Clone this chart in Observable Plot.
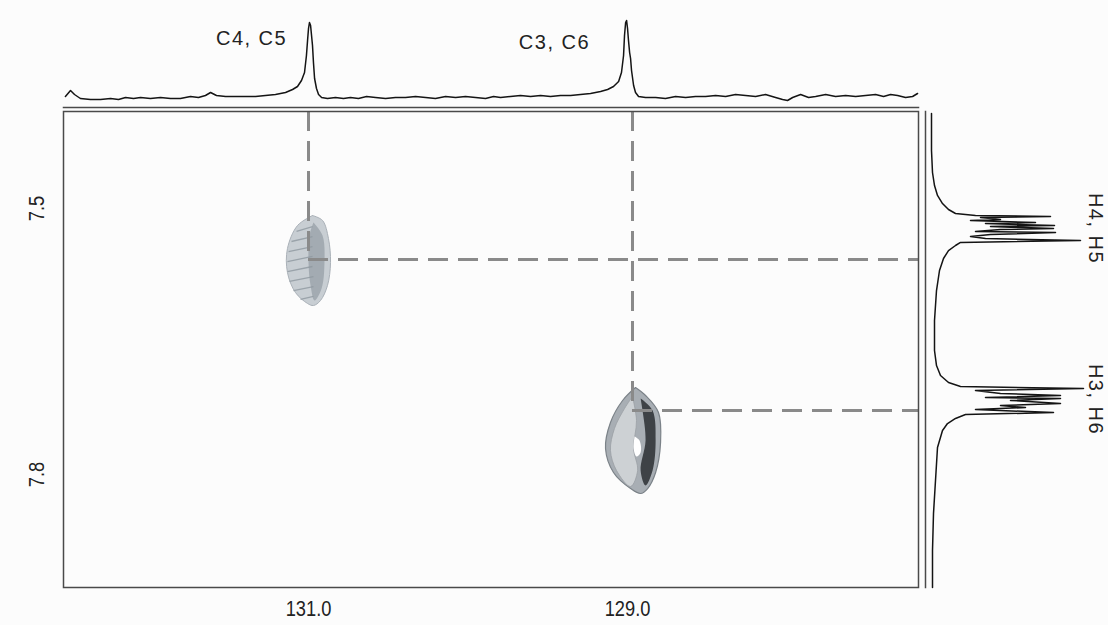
<!DOCTYPE html>
<html><head><meta charset="utf-8">
<script src="https://cdn.jsdelivr.net/npm/d3@7"></script>
<script src="https://cdn.jsdelivr.net/npm/@observablehq/plot@0.6"></script>
<style>
html,body{margin:0;padding:0;background:#fcfcfc;}
#chart{position:relative;width:1108px;height:625px;overflow:hidden;background:#fcfcfc;}
#chart svg{position:absolute;left:0;top:0;}
</style></head><body><div id="chart"></div>
<script>
// ---- axis extents and ticks (ppm) ----
const carbonDomain = [132.536, 127.176];
const protonDomain = [7.3906, 7.9274];
const carbonTicks = [131.0, 129.0];
const protonTicks = [7.5, 7.8];

// ---- labels ----
const carbonLabels = ["C4, C5", "C3, C6"];
const carbonLabelShift = [131.357, 129.458];
const carbonLabelHeight = [62, 58];
const protonLabels = ["H4, H5", "H3, H6"];
const protonLabelShift = [7.5226, 7.7154];
const protonLabelHeight = [164, 164];

// ---- cross peaks (13C, 1H) ----
const crossPeakC = [131.0, 128.969];
const crossPeakH = [7.5575, 7.7278];

// ---- top 13C projection ----
const topShift = [132.524,132.492,132.467,132.430,132.367,132.304,132.241,132.191,132.147,132.097,132.053,131.991,131.928,131.865,131.803,131.740,131.690,131.646,131.614,131.577,131.520,131.426,131.332,131.270,131.207,131.144,131.100,131.069,131.044,131.025,131.013,131.006,131.000,130.994,130.987,130.981,130.975,130.969,130.962,130.950,130.937,130.918,130.881,130.831,130.781,130.737,130.687,130.636,130.580,130.517,130.455,130.392,130.329,130.266,130.204,130.141,130.078,130.016,129.953,129.890,129.840,129.796,129.734,129.671,129.608,129.545,129.483,129.420,129.357,129.295,129.232,129.169,129.125,129.088,129.056,129.038,129.025,129.019,129.012,129.006,129.000,128.994,128.987,128.981,128.975,128.962,128.950,128.931,128.887,128.824,128.762,128.699,128.636,128.574,128.511,128.448,128.385,128.323,128.260,128.197,128.135,128.072,128.028,127.997,127.965,127.915,127.865,127.821,127.758,127.696,127.633,127.570,127.508,127.445,127.395,127.351,127.307,127.257,127.213,127.182];
const topIntensity = [4,10,6,2,1,1,2,1,3,2,3,2,3,2,2,4,3,5,8,5,4,4,4,5,6,8,11,14,20,28,45,60,72,78,75,65,55,38,22,12,6,3,2,3,2,3,2,4,3,2,3,3,4,3,2,4,3,4,3,2,4,3,4,5,4,5,4,5,5,6,7,9,11,14,19,28,45,65,78,80,72,60,48,42,30,15,8,4,3,3,2,4,3,4,4,5,4,6,5,4,6,3,1,0,3,6,3,4,6,4,5,4,5,6,4,6,5,3,4,7];

// ---- right 1H projection ----
const rightShift = [7.3929,7.4346,7.4594,7.4741,7.4853,7.4944,7.5011,7.5056,7.5079,7.5090,7.5102,7.5124,7.5135,7.5158,7.5169,7.5192,7.5203,7.5226,7.5237,7.5259,7.5271,7.5293,7.5316,7.5338,7.5361,7.5383,7.5417,7.5474,7.5564,7.5699,7.5925,7.6263,7.6601,7.6771,7.6883,7.6962,7.7007,7.7030,7.7053,7.7086,7.7109,7.7132,7.7143,7.7165,7.7199,7.7222,7.7244,7.7267,7.7301,7.7323,7.7368,7.7425,7.7504,7.7695,7.8068,7.8440,7.8857,7.9274];
const rightIntensity = [0,0,1,3,6,11,17,24,44,119,49,69,39,104,54,123,59,122,69,44,124,59,39,54,149,29,24,17,12,8,5,3,3,5,9,17,29,152,44,69,129,54,129,79,129,69,94,44,122,34,24,16,11,6,4,2,1,1];

// ---- cross-peak contour outlines ----
const peak1OuterC = [130.975,130.912,130.875,130.862,130.881,130.925,130.969,131.006,131.082,131.132,131.132,131.069];
const peak1OuterH = [7.5079,7.5135,7.5338,7.5609,7.5868,7.6038,7.6094,7.6071,7.5947,7.5722,7.5451,7.5192];
const peak1RidgeC = [130.969,130.912,130.900,130.918,130.962,130.987,131.000,130.994];
const peak1RidgeH = [7.5158,7.5305,7.5609,7.5902,7.6038,7.5868,7.5609,7.5305];
const peak1StripeC1 = [131.075,131.107,131.125,131.132,131.132,131.119,131.094,131.050];
const peak1StripeH1 = [7.5259,7.5372,7.5485,7.5598,7.5711,7.5823,7.5925,7.6026];
const peak1StripeC2 = [130.975,130.975,130.975,130.975,130.975,130.969,130.969,130.969];
const peak1StripeH2 = [7.5203,7.5316,7.5429,7.5541,7.5654,7.5767,7.5880,7.5992];
const peak2OuterC = [128.950,128.887,128.806,128.793,128.824,128.874,128.918,128.981,129.088,129.138,129.107,129.031];
const peak2OuterH = [7.7019,7.7109,7.7301,7.7639,7.7977,7.8158,7.8214,7.8158,7.7977,7.7707,7.7413,7.7165];
const peak2LightC = [128.969,129.019,129.082,129.107,129.069,128.981,128.937,128.962,128.944];
const peak2LightH = [7.7120,7.7256,7.7481,7.7729,7.7955,7.8135,7.7955,7.7707,7.7391];
const peak2DarkC = [128.918,128.843,128.824,128.843,128.887,128.918,128.887,128.906];
const peak2DarkH = [7.7143,7.7278,7.7617,7.7955,7.8124,7.7955,7.7617,7.7278];
const peak2HoleC = [128.956,128.925,128.918,128.944,128.962];
const peak2HoleH = [7.7571,7.7617,7.7752,7.7797,7.7707];

(function () {
const FONT = "Liberation Sans, Arial, sans-serif";
const ring = (cs, hs) => { const r = cs.map((c, i) => ({c, h: hs[i]})); r.push(r[0]); return r; };
const peaks = crossPeakC.map((c, i) => ({c, h: crossPeakH[i]}));
const stripes = peak1StripeC1.map((c, i) => ({c1: c, h1: peak1StripeH1[i], c2: peak1StripeC2[i], h2: peak1StripeH2[i]}));
const topData = topShift.map((c, i) => ({c, v: topIntensity[i]}));
const rightData = rightShift.map((h, i) => ({h, v: rightIntensity[i]}));

const xScale = {domain: carbonDomain, range: [63, 918]};
const yScale = {domain: protonDomain, range: [111, 587]};
const baseStyle = {background: "transparent", fontFamily: FONT, color: "#222", overflow: "visible"};

const mainPlot = Plot.plot({
  width: 1108, height: 625,
  marginLeft: 63, marginRight: 190, marginTop: 111, marginBottom: 38,
  style: baseStyle,
  x: {...xScale, axis: null},
  y: {...yScale, axis: null},
  marks: [
    Plot.line(ring(peak1OuterC, peak1OuterH), {x: "c", y: "h", fill: "#c8ced3", stroke: "#aab1b8", strokeWidth: 1, curve: "catmull-rom"}),
    Plot.link(stripes, {x1: "c1", y1: "h1", x2: "c2", y2: "h2", stroke: "#9aa3aa", strokeWidth: 1.3}),
    Plot.line(ring(peak1RidgeC, peak1RidgeH), {x: "c", y: "h", fill: "#8f98a0", fillOpacity: 0.65, stroke: "none", curve: "catmull-rom"}),
    Plot.line(ring(peak2OuterC, peak2OuterH), {x: "c", y: "h", fill: "#a8aeb4", stroke: "#7b8288", strokeWidth: 1.2, curve: "catmull-rom"}),
    Plot.line(ring(peak2LightC, peak2LightH), {x: "c", y: "h", fill: "#cdd1d4", stroke: "#9aa0a5", strokeWidth: 0.8, curve: "catmull-rom"}),
    Plot.line(ring(peak2DarkC, peak2DarkH), {x: "c", y: "h", fill: "#3e4246", stroke: "none", curve: "catmull-rom"}),
    Plot.line(ring(peak2HoleC, peak2HoleH), {x: "c", y: "h", fill: "#ffffff", stroke: "none", curve: "catmull-rom"}),
    Plot.ruleX(peaks, {x: "c", y1: () => protonDomain[0], y2: "h", stroke: "#8a8a8a", strokeWidth: 3, strokeDasharray: "20,10"}),
    Plot.ruleY(peaks, {y: "h", x1: "c", x2: () => carbonDomain[1], stroke: "#8a8a8a", strokeWidth: 3, strokeDasharray: "20,10"}),
    Plot.frame({stroke: "#4a4a4a", strokeWidth: 1.5}),
    Plot.axisX(carbonTicks, {anchor: "bottom", tickSize: 0, tickPadding: 13, tickFormat: d => d.toFixed(1), fontSize: 22, label: null}),
    Plot.text(protonTicks, {y: d => d, text: d => d.toFixed(1), frameAnchor: "left", textAnchor: "middle", dx: -27, rotate: -90, fontSize: 22, fill: "#222"})
  ]
});

const topPlot = Plot.plot({
  width: 1108, height: 625,
  marginLeft: 63, marginRight: 190, marginTop: 0, marginBottom: 518,
  style: baseStyle,
  x: {...xScale, axis: null},
  y: {domain: [0, 100], range: [100, 0], axis: null},
  marks: [
    Plot.frame({anchor: "bottom", stroke: "#4a4a4a", strokeWidth: 1.5}),
    Plot.line(topData, {x: "c", y: "v", stroke: "#141414", strokeWidth: 1.5}),
    Plot.text(carbonLabels, {x: (d, i) => carbonLabelShift[i], y: (d, i) => carbonLabelHeight[i], text: d => d, fontSize: 20, fill: "#222"})
  ]
});

const rightPlot = Plot.plot({
  width: 1108, height: 625,
  marginLeft: 925, marginRight: 0, marginTop: 111, marginBottom: 38,
  style: baseStyle,
  x: {domain: [0, 160], range: [931, 1091], axis: null},
  y: {...yScale, axis: null},
  marks: [
    Plot.frame({anchor: "left", stroke: "#4a4a4a", strokeWidth: 1.5}),
    Plot.line(rightData, {x: "v", y: "h", stroke: "#141414", strokeWidth: 1.5, curve: "linear"}),
    Plot.text(protonLabels, {x: (d, i) => protonLabelHeight[i], y: (d, i) => protonLabelShift[i], text: d => d, rotate: 90, fontSize: 20, fill: "#222"})
  ]
});

const chart = document.getElementById("chart");
chart.append(mainPlot, topPlot, rightPlot);
// narrow tick-label glyphs as in the reference
d3.select(mainPlot).selectAll("text").each(function () {
  const t = this.getAttribute("transform") || "";
  this.setAttribute("transform", t + " scale(0.83,1)");
});
d3.select(topPlot).selectAll("text").style("letter-spacing", "1.5px");
d3.select(rightPlot).selectAll("text").style("letter-spacing", "1.5px");
})();
</script>
</body></html>
